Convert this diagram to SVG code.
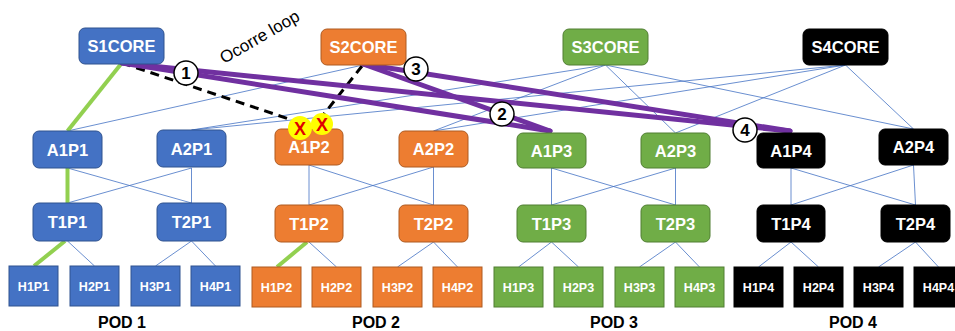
<svg xmlns="http://www.w3.org/2000/svg" width="955" height="331" viewBox="0 0 955 331">
<style>
.blue{fill:#4472C4;stroke:#2F528F;stroke-width:1}
.orange{fill:#ED7D31;stroke:#AE5A21;stroke-width:1}
.green{fill:#70AD47;stroke:#507E32;stroke-width:1}
.black{fill:#000;stroke:#000;stroke-width:1}
.lbl{font-family:"Liberation Sans",Arial,sans-serif;font-weight:bold;font-size:16.5px;fill:#fff;text-anchor:middle}
.hl{font-family:"Liberation Sans",Arial,sans-serif;font-weight:bold;font-size:12.5px;fill:#fff;text-anchor:middle}
.pod{font-family:"Liberation Sans",Arial,sans-serif;font-weight:bold;font-size:16px;fill:#000;text-anchor:middle}
.thin{stroke:#4472C4;stroke-width:0.8;fill:none}
.gr{stroke:#92D050;stroke-width:4;fill:none}
.pu{stroke:#7030A0;stroke-width:5;fill:none;stroke-linecap:round}
.dash{stroke:#000;stroke-width:3;stroke-dasharray:9 6;fill:none}
.num{fill:#fff;stroke:#000;stroke-width:1.5}
.numt{font-family:"Liberation Sans",Arial,sans-serif;font-weight:bold;font-size:17px;fill:#000;text-anchor:middle}
.xm{fill:#FFFF00}
.xt{font-family:"Liberation Sans",Arial,sans-serif;font-weight:bold;font-size:18px;fill:#E00000;text-anchor:middle}
</style>
<g id="connectors">
<line class="thin" x1="363" y1="65" x2="67.5" y2="131"/>
<line class="thin" x1="605.5" y1="65" x2="191.5" y2="130"/>
<line class="thin" x1="605.5" y1="65" x2="433.5" y2="131"/>
<line class="thin" x1="605.5" y1="65" x2="675.5" y2="133"/>
<line class="thin" x1="605.5" y1="65" x2="913.5" y2="129"/>
<line class="thin" x1="845.5" y1="65" x2="191.5" y2="130"/>
<line class="thin" x1="845.5" y1="65" x2="433.5" y2="131"/>
<line class="thin" x1="845.5" y1="65" x2="675.5" y2="133"/>
<line class="thin" x1="845.5" y1="65" x2="913.5" y2="129"/>
<line class="thin" x1="67.5" y1="168" x2="191.5" y2="203"/>
<line class="thin" x1="191.5" y1="168" x2="67.5" y2="203"/>
<line class="thin" x1="191.5" y1="168" x2="191.5" y2="203"/>
<line class="thin" x1="309" y1="165" x2="309" y2="205"/>
<line class="thin" x1="309" y1="165" x2="433.5" y2="205"/>
<line class="thin" x1="433.5" y1="167" x2="309" y2="205"/>
<line class="thin" x1="433.5" y1="167" x2="433.5" y2="205"/>
<line class="thin" x1="551.5" y1="168" x2="551.5" y2="205"/>
<line class="thin" x1="551.5" y1="168" x2="675.5" y2="205"/>
<line class="thin" x1="675.5" y1="168" x2="551.5" y2="205"/>
<line class="thin" x1="675.5" y1="168" x2="675.5" y2="205"/>
<line class="thin" x1="791" y1="168" x2="791" y2="205"/>
<line class="thin" x1="791" y1="168" x2="915.5" y2="205"/>
<line class="thin" x1="913.5" y1="165" x2="791" y2="205"/>
<line class="thin" x1="913.5" y1="165" x2="915.5" y2="205"/>
<line class="thin" x1="67.5" y1="241" x2="94.5" y2="266"/>
<line class="thin" x1="191.5" y1="241" x2="155.5" y2="266"/>
<line class="thin" x1="191.5" y1="241" x2="215.5" y2="266"/>
<line class="thin" x1="309" y1="242" x2="336.5" y2="267"/>
<line class="thin" x1="433.5" y1="242" x2="397.5" y2="267"/>
<line class="thin" x1="433.5" y1="242" x2="457.5" y2="267"/>
<line class="thin" x1="551.5" y1="242" x2="518.5" y2="267"/>
<line class="thin" x1="551.5" y1="242" x2="578.5" y2="267"/>
<line class="thin" x1="675.5" y1="242" x2="639.5" y2="267"/>
<line class="thin" x1="675.5" y1="242" x2="699.5" y2="267"/>
<line class="thin" x1="791" y1="242" x2="758.5" y2="267"/>
<line class="thin" x1="791" y1="242" x2="818.5" y2="267"/>
<line class="thin" x1="915.5" y1="242" x2="878.5" y2="267"/>
<line class="thin" x1="915.5" y1="242" x2="938.5" y2="267"/>
<line class="gr" x1="121" y1="64" x2="67.5" y2="131"/>
<line class="gr" x1="67.5" y1="168" x2="67.5" y2="203"/>
<line class="gr" x1="65" y1="241" x2="34" y2="266"/>
<line class="gr" x1="307" y1="242" x2="277" y2="267"/>
<line class="dash" x1="122" y1="63" x2="292" y2="120"/>
<line class="dash" x1="362" y1="66" x2="324" y2="114"/>
<line class="pu" x1="122" y1="63" x2="790" y2="131"/>
<line class="pu" x1="122" y1="63" x2="550" y2="131"/>
<line class="pu" x1="363" y1="64" x2="790" y2="131"/>
<line class="pu" x1="363" y1="64" x2="550" y2="131"/>
</g>
<g id="S1CORE"><rect class="blue" x="79" y="28" width="85" height="36" rx="6"/><text class="lbl" x="121.5" y="52">S1CORE</text></g>
<g id="S2CORE"><rect class="orange" x="321" y="29" width="85" height="36" rx="6"/><text class="lbl" x="363.5" y="53">S2CORE</text></g>
<g id="S3CORE"><rect class="green" x="563" y="29" width="85" height="36" rx="6"/><text class="lbl" x="605.5" y="53">S3CORE</text></g>
<g id="S4CORE"><rect class="black" x="803" y="29" width="85" height="36" rx="6"/><text class="lbl" x="845.5" y="53">S4CORE</text></g>
<g id="A1P1"><rect class="blue" x="33" y="131" width="69" height="37" rx="6"/><text class="lbl" x="67.5" y="155.5">A1P1</text></g>
<g id="A2P1"><rect class="blue" x="157" y="130" width="69" height="37" rx="6"/><text class="lbl" x="191.5" y="154.5">A2P1</text></g>
<g id="A1P2"><rect class="orange" x="275" y="129" width="68" height="36" rx="6"/><text class="lbl" x="309" y="153">A1P2</text></g>
<g id="A2P2"><rect class="orange" x="399" y="131" width="69" height="36" rx="6"/><text class="lbl" x="433.5" y="155">A2P2</text></g>
<g id="A1P3"><rect class="green" x="517" y="133" width="69" height="35" rx="6"/><text class="lbl" x="551.5" y="156.5">A1P3</text></g>
<g id="A2P3"><rect class="green" x="641" y="133" width="69" height="35" rx="6"/><text class="lbl" x="675.5" y="156.5">A2P3</text></g>
<g id="A1P4"><rect class="black" x="757" y="133" width="68" height="35" rx="6"/><text class="lbl" x="791" y="156.5">A1P4</text></g>
<g id="A2P4"><rect class="black" x="879" y="129" width="69" height="36" rx="6"/><text class="lbl" x="913.5" y="153">A2P4</text></g>
<g id="T1P1"><rect class="blue" x="33" y="203" width="69" height="38" rx="6"/><text class="lbl" x="67.5" y="228">T1P1</text></g>
<g id="T2P1"><rect class="blue" x="157" y="203" width="69" height="38" rx="6"/><text class="lbl" x="191.5" y="228">T2P1</text></g>
<g id="T1P2"><rect class="orange" x="275" y="205" width="68" height="37" rx="6"/><text class="lbl" x="309" y="229.5">T1P2</text></g>
<g id="T2P2"><rect class="orange" x="399" y="205" width="69" height="37" rx="6"/><text class="lbl" x="433.5" y="229.5">T2P2</text></g>
<g id="T1P3"><rect class="green" x="517" y="205" width="69" height="37" rx="6"/><text class="lbl" x="551.5" y="229.5">T1P3</text></g>
<g id="T2P3"><rect class="green" x="641" y="205" width="69" height="37" rx="6"/><text class="lbl" x="675.5" y="229.5">T2P3</text></g>
<g id="T1P4"><rect class="black" x="757" y="205" width="68" height="37" rx="6"/><text class="lbl" x="791" y="229.5">T1P4</text></g>
<g id="T2P4"><rect class="black" x="881" y="205" width="69" height="37" rx="6"/><text class="lbl" x="915.5" y="229.5">T2P4</text></g>
<g id="H1P1"><rect class="blue" x="9" y="266" width="49" height="40"/><text class="hl" x="33.5" y="290.5">H1P1</text></g>
<g id="H2P1"><rect class="blue" x="70" y="266" width="49" height="40"/><text class="hl" x="94.5" y="290.5">H2P1</text></g>
<g id="H3P1"><rect class="blue" x="131" y="266" width="49" height="40"/><text class="hl" x="155.5" y="290.5">H3P1</text></g>
<g id="H4P1"><rect class="blue" x="191" y="266" width="49" height="40"/><text class="hl" x="215.5" y="290.5">H4P1</text></g>
<g id="H1P2"><rect class="orange" x="252" y="267" width="49" height="40"/><text class="hl" x="276.5" y="291.5">H1P2</text></g>
<g id="H2P2"><rect class="orange" x="312" y="267" width="49" height="40"/><text class="hl" x="336.5" y="291.5">H2P2</text></g>
<g id="H3P2"><rect class="orange" x="373" y="267" width="49" height="40"/><text class="hl" x="397.5" y="291.5">H3P2</text></g>
<g id="H4P2"><rect class="orange" x="433" y="267" width="49" height="40"/><text class="hl" x="457.5" y="291.5">H4P2</text></g>
<g id="H1P3"><rect class="green" x="494" y="267" width="49" height="40"/><text class="hl" x="518.5" y="291.5">H1P3</text></g>
<g id="H2P3"><rect class="green" x="554" y="267" width="49" height="40"/><text class="hl" x="578.5" y="291.5">H2P3</text></g>
<g id="H3P3"><rect class="green" x="615" y="267" width="49" height="40"/><text class="hl" x="639.5" y="291.5">H3P3</text></g>
<g id="H4P3"><rect class="green" x="675" y="267" width="49" height="40"/><text class="hl" x="699.5" y="291.5">H4P3</text></g>
<g id="H1P4"><rect class="black" x="734" y="267" width="49" height="40"/><text class="hl" x="758.5" y="291.5">H1P4</text></g>
<g id="H2P4"><rect class="black" x="794" y="267" width="49" height="40"/><text class="hl" x="818.5" y="291.5">H2P4</text></g>
<g id="H3P4"><rect class="black" x="854" y="267" width="49" height="40"/><text class="hl" x="878.5" y="291.5">H3P4</text></g>
<g id="H4P4"><rect class="black" x="914" y="267" width="49" height="40"/><text class="hl" x="938.5" y="291.5">H4P4</text></g>
<g id="markers">
<circle class="num" cx="186" cy="73" r="12"/><text class="numt" x="186" y="79">1</text>
<circle class="num" cx="502" cy="114" r="12"/><text class="numt" x="502" y="120">2</text>
<circle class="num" cx="416" cy="69" r="12"/><text class="numt" x="416" y="75">3</text>
<circle class="num" cx="745" cy="130" r="12"/><text class="numt" x="745" y="136">4</text>
<circle class="xm" cx="300" cy="128" r="12"/><text class="xt" x="300" y="134.5">X</text>
<circle class="xm" cx="322" cy="124" r="11"/><text class="xt" x="322" y="130.5">X</text>
</g>
<text x="224" y="64" transform="rotate(-30 224 64)" font-family="Liberation Sans, Arial, sans-serif" font-size="17" fill="#000">Ocorre loop</text>
<text class="pod" x="122" y="328">POD 1</text>
<text class="pod" x="376" y="328">POD 2</text>
<text class="pod" x="614" y="328">POD 3</text>
<text class="pod" x="853" y="328">POD 4</text>
</svg>
